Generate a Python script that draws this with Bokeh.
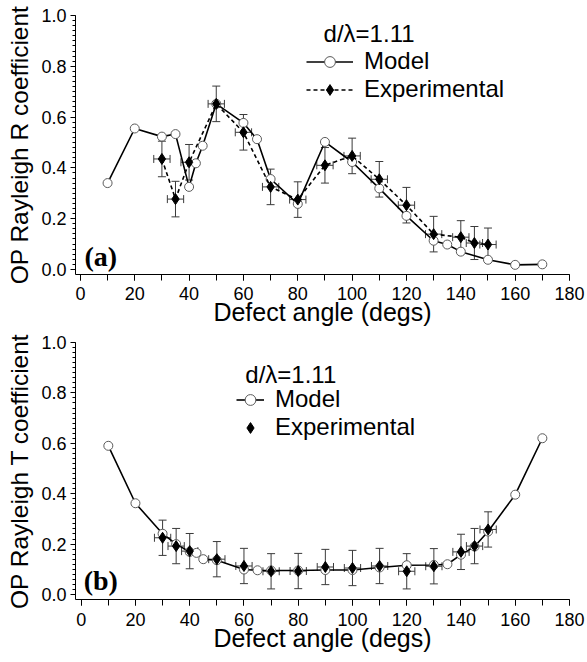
from bokeh.plotting import figure
from bokeh.models import (Range1d, FixedTicker, Whisker, TeeHead, ColumnDataSource,
                          Legend, LegendItem, Label, CustomJSTickFormatter)
from bokeh.layouts import column
from bokeh.embed import file_html
from bokeh.resources import INLINE

# ---------------- data ----------------
x_ticks = [0, 20, 40, 60, 80, 100, 120, 140, 160, 180]
x_minor = [0, 10, 20, 30, 40, 50, 60, 70, 80, 90, 100, 110, 120, 130, 140, 150, 160, 170, 180]
y_ticks = [0.0, 0.2, 0.4, 0.6, 0.8, 1.0]

# (a) reflection
r_model_x = [10, 20, 30, 35, 40, 42.5, 45, 50, 60, 65, 70, 80, 90, 100, 110, 120, 130, 135, 140, 150, 160, 170]
r_model_y = [0.34, 0.555, 0.523, 0.533, 0.325, 0.418, 0.487, 0.652, 0.577, 0.513, 0.356, 0.258,
             0.502, 0.423, 0.319, 0.211, 0.113, 0.098, 0.07, 0.038, 0.018, 0.02]
r_exp_x = [30, 35, 40, 50, 60, 70, 80, 90, 100, 110, 120, 130, 140, 145, 150]
r_exp_y = [0.435, 0.277, 0.422, 0.652, 0.54, 0.325, 0.275, 0.41, 0.447, 0.355, 0.253, 0.139, 0.127, 0.104, 0.098]
r_exp_yerr = [0.07, 0.07, 0.07, 0.07, 0.07, 0.07, 0.07, 0.07, 0.07, 0.07, 0.07, 0.07, 0.065, 0.065, 0.065]
r_exp_xerr = [3, 3, 3, 3, 3, 3, 3, 3, 3, 3, 3, 3, 3, 3, 3]

# (b) transmission
t_model_x = [10, 20, 30, 35, 40, 42.5, 45, 50, 60, 65, 70, 80, 90, 100, 110, 120, 130, 135, 140, 145, 150, 160, 170]
t_model_y = [0.59, 0.362, 0.241, 0.2, 0.169, 0.165, 0.14, 0.136, 0.099, 0.096, 0.095, 0.095, 0.097,
             0.097, 0.107, 0.116, 0.117, 0.12, 0.158, 0.19, 0.25, 0.396, 0.62]
t_exp_x = [30, 35, 40, 50, 60, 70, 80, 90, 100, 110, 120, 130, 140, 145, 150]
t_exp_y = [0.225, 0.192, 0.172, 0.14, 0.113, 0.092, 0.093, 0.109, 0.105, 0.113, 0.092, 0.112, 0.169, 0.192, 0.258]
t_exp_yerr = [0.07, 0.07, 0.07, 0.07, 0.07, 0.07, 0.07, 0.07, 0.07, 0.07, 0.07, 0.07, 0.07, 0.07, 0.07]
t_exp_xerr = [3, 3, 3, 3, 3, 3, 3, 3, 3, 3, 3, 3, 3, 3, 3]

SANS = "Liberation Sans"
SERIF = "Liberation Serif"
ERR = "#3a3a3a"


def make_panel(ylabel, mx, my, ex, ey, eyerr, exerr, exp_line, tag, tag_x, tag_y,
               dl_x, dl_y, leg_loc, glyph_w, xr, height, border_left, border_top,
               border_bottom, tick_standoff, title_standoff):
    p = figure(width=587, height=height, output_backend="svg", toolbar_location=None,
               x_range=Range1d(*xr), y_range=Range1d(-0.02, 1.0),
               min_border_left=border_left, min_border_right=18,
               min_border_top=border_top, min_border_bottom=border_bottom)
    p.grid.visible = False
    p.outline_line_color = None
    p.background_fill_color = "white"
    p.border_fill_color = "white"

    xa = p.xaxis[0]
    xa.ticker = FixedTicker(ticks=x_ticks, minor_ticks=x_minor)
    xa.major_tick_out = 6
    xa.major_tick_in = 0
    xa.minor_tick_out = 6
    xa.minor_tick_in = 0
    xa.major_label_text_font = SANS
    xa.major_label_text_font_size = "18px"
    xa.major_label_text_color = "black"
    xa.major_label_standoff = tick_standoff
    xa.axis_label = "Defect angle (degs)"
    xa.axis_label_text_font = SANS
    xa.axis_label_text_font_size = "25px"
    xa.axis_label_text_font_style = "normal"
    xa.axis_label_text_color = "black"
    xa.axis_label_standoff = title_standoff
    xa.axis_line_color = "black"

    ya = p.yaxis[0]
    ya.ticker = FixedTicker(ticks=y_ticks,
                            minor_ticks=[round(i * 0.02, 2) for i in range(0, 51)])
    ya.major_tick_out = 5
    ya.major_tick_in = 0
    ya.minor_tick_out = 3
    ya.minor_tick_in = 0
    ya.major_label_text_font = SANS
    ya.major_label_text_font_size = "18px"
    ya.major_label_text_color = "black"
    ya.major_label_standoff = 4
    ya.formatter = CustomJSTickFormatter(code="return tick.toFixed(1);")
    ya.axis_label = ylabel
    ya.axis_label_text_font = SANS
    ya.axis_label_text_font_size = "24.5px"
    ya.axis_label_text_font_style = "normal"
    ya.axis_label_text_color = "black"
    ya.axis_label_standoff = 5
    ya.axis_line_color = "black"

    msrc = ColumnDataSource(dict(x=mx, y=my))
    esrc = ColumnDataSource(dict(
        x=ex, y=ey,
        ylo=[a - b for a, b in zip(ey, eyerr)], yhi=[a + b for a, b in zip(ey, eyerr)],
        xlo=[a - b for a, b in zip(ex, exerr)], xhi=[a + b for a, b in zip(ex, exerr)]))

    m_line = p.line("x", "y", source=msrc, line_color="black", line_width=1.6)
    m_pts = p.scatter("x", "y", source=msrc, marker="circle", size=9,
                      fill_color="white", line_color="#5a5a5a", line_width=1)

    e_line = None
    if exp_line:
        e_line = p.line("x", "y", source=esrc, line_color="black", line_width=1.6,
                        line_dash="4 3")

    vw = Whisker(source=esrc, base="x", lower="ylo", upper="yhi", dimension="height",
                 line_color=ERR, line_width=1,
                 upper_head=TeeHead(size=8, line_color=ERR, line_width=1),
                 lower_head=TeeHead(size=8, line_color=ERR, line_width=1))
    hw = Whisker(source=esrc, base="y", lower="xlo", upper="xhi", dimension="width",
                 line_color=ERR, line_width=1,
                 upper_head=TeeHead(size=8, line_color=ERR, line_width=1),
                 lower_head=TeeHead(size=8, line_color=ERR, line_width=1))
    p.add_layout(vw)
    p.add_layout(hw)

    e_pts = p.scatter("x", "y", source=esrc, marker="diamond", size=11,
                      fill_color="black", line_color="black")

    items = [LegendItem(label="Model", renderers=[m_line, m_pts])]
    if e_line is not None:
        items.append(LegendItem(label="Experimental", renderers=[e_line, e_pts]))
    else:
        items.append(LegendItem(label="Experimental", renderers=[e_pts]))
    leg = Legend(items=items, location=leg_loc, orientation="vertical",
                 label_text_font=SANS, label_text_font_size="24px", label_text_color="black",
                 glyph_width=glyph_w, glyph_height=27, label_height=27, label_standoff=11,
                 padding=0, spacing=0, margin=0,
                 border_line_alpha=0, background_fill_alpha=0)
    p.add_layout(leg)

    p.add_layout(Label(x=dl_x, y=dl_y, text="d/\u03bb=1.11", text_font=SANS,
                       text_font_size="24px", text_color="black", text_baseline="middle",
                       text_align="left"))
    p.add_layout(Label(x=tag_x, y=tag_y, text=tag, text_font=SERIF,
                       text_font_size="28px", text_font_style="bold", text_color="black",
                       text_baseline="middle", text_align="left"))
    return p


p1 = make_panel("OP Rayleigh R coefficient", r_model_x, r_model_y, r_exp_x, r_exp_y,
                r_exp_yerr, r_exp_xerr, True, "(a)", 1.5, 0.051, 89.5, 0.929,
                (231, 171), 47, (-1.8, 180), 331, 74, 15, 57, 6, -5)
p2 = make_panel("OP Rayleigh T coefficient", t_model_x, t_model_y, t_exp_x, t_exp_y,
                t_exp_yerr, t_exp_xerr, False, "(b)", 0.9, 0.056, 60.5, 0.873,
                (161, 158), 28, (-2.1, 180), 331, 75, 11, 63, 7, -5)

layout = column(p1, p2, spacing=0)
open("out.html", "w").write(file_html(layout, INLINE))
